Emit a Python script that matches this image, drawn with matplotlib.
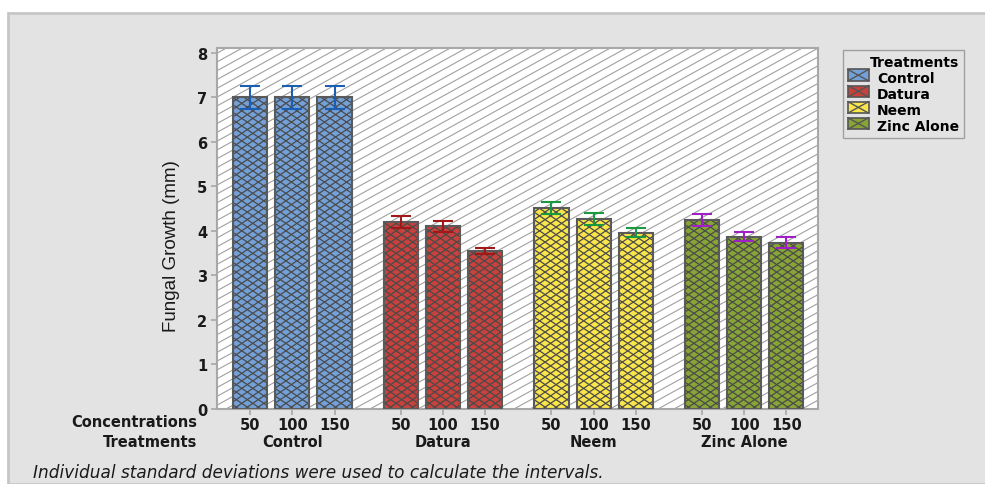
import numpy as np
import matplotlib
matplotlib.use('Agg')
import matplotlib.pyplot as plt
from matplotlib.patches import Rectangle, Patch
from matplotlib.lines import Line2D
from matplotlib.collections import LineCollection
from matplotlib.legend_handler import HandlerBase
from matplotlib import transforms

# data
treatments = ['Control', 'Datura', 'Neem', 'Zinc Alone']
concentrations = ['50', '100', '150']
growth = {
    'Control': [7.0, 7.0, 7.0],
    'Datura': [4.2, 4.1, 3.55],
    'Neem': [4.52, 4.27, 3.96],
    'Zinc Alone': [4.25, 3.87, 3.74],
}
errors = {
    'Control': [0.25, 0.25, 0.25],
    'Datura': [0.13, 0.13, 0.07],
    'Neem': [0.14, 0.13, 0.10],
    'Zinc Alone': [0.13, 0.10, 0.12],
}

bar_colors = ['#73a0d7', '#c8413c', '#fae64b', '#87a537']
err_colors = ['#1a5fb4', '#a01818', '#1a9a40', '#a020c8']

FW, FH = 985, 485
fig = plt.figure(figsize=(FW / 100, FH / 100), dpi=100)
fig.patch.set_facecolor('white')
# gray panel behind the chart
fig.patches.append(Rectangle((8 / FW, 0), 1, 1 - 14 / FH, transform=fig.transFigure,
                             facecolor='#e3e3e3', edgecolor='#c6c6c6', lw=2, zorder=-5))

ax_l, ax_r, ax_t, ax_b = 217, 818, 49, 410
ax = fig.add_axes([ax_l / FW, 1 - ax_b / FH, (ax_r - ax_l) / FW, (ax_b - ax_t) / FH])
ax.set_facecolor('white')
W, H = ax_r - ax_l, ax_b - ax_t


def diag_segments(slope, dy):
    # lines y = slope*x + c in pixel units, returned in axes fractions
    if slope > 0:
        cs = np.arange(-slope * W - dy, H + dy, dy)
    else:
        cs = np.arange(-dy, H - slope * W + dy, dy)
    return [[(0, c / H), (1, (slope * W + c) / H)] for c in cs]


# background hatching of the plot area
bg = LineCollection(diag_segments(0.55, 8.8), transform=ax.transAxes,
                    colors='#a0a0a0', linewidths=0.8, zorder=0.5)
ax.add_collection(bg)

step = 3.576
width = 0.81
font = 'DejaVu Sans'
tcol = '#1a1a1a'
fs = 10.5

for g, (name, col, ecol) in enumerate(zip(treatments, bar_colors, err_colors)):
    xs = g * step + np.arange(len(concentrations))
    bars = ax.bar(xs, growth[name], width, color=col, edgecolor='none', zorder=2)
    for b in bars:
        for s in (0.68, -0.68):
            lc = LineCollection(diag_segments(s, 7.5), transform=ax.transAxes,
                                colors='#4a4a4a', linewidths=0.9, zorder=2.5)
            ax.add_collection(lc)
            lc.set_clip_path(b)
    ax.bar(xs, growth[name], width, facecolor='none', edgecolor='#5a5a5a', lw=1.5, zorder=3)
    ax.errorbar(xs, growth[name], yerr=errors[name], fmt='none', ecolor=ecol,
                elinewidth=1.5, capsize=7, capthick=1.5, zorder=4)

ax.set_xlim(-0.79, 13.48)
ax.set_ylim(0, 8.11)
ax.set_yticks(range(0, 9))
tick_pos = [g * step + i for g in range(len(treatments)) for i in range(len(concentrations))]
ax.set_xticks(tick_pos)
ax.set_xticklabels(concentrations * len(treatments))
for sp in ax.spines.values():
    sp.set_color('#a8a8a8')
    sp.set_linewidth(1.5)
ax.tick_params(axis='both', colors='#a8a8a8', length=4, width=1.2, labelcolor=tcol,
               labelsize=fs)
ax.tick_params(axis='x', pad=1.5)
ax.tick_params(axis='y', pad=3)
for lab in ax.get_xticklabels() + ax.get_yticklabels():
    lab.set_fontfamily(font)
    lab.set_fontweight('bold')

# group names under the concentration labels
trans = transforms.blended_transform_factory(ax.transData, fig.transFigure)
for g, name in enumerate(treatments):
    ax.text(g * step + 1, 1 - 443 / FH, name, transform=trans, ha='center', va='center',
            fontsize=fs, fontfamily=font, fontweight='bold', color=tcol)

fig.text(197 / FW, 1 - 423 / FH, 'Concentrations', ha='right', va='center', fontsize=fs,
         fontfamily=font, fontweight='bold', color=tcol)
fig.text(197 / FW, 1 - 443 / FH, 'Treatments', ha='right', va='center', fontsize=fs,
         fontfamily=font, fontweight='bold', color=tcol)
fig.text(33 / FW, 1 - 473 / FH, 'Individual standard deviations were used to calculate the intervals.',
         ha='left', va='center', fontsize=12.2, fontfamily=font, style='italic', color=tcol)

ax.set_ylabel('Fungal Growth (mm)', fontsize=13.5, family=['Liberation Sans', 'DejaVu Sans'],
              color=tcol)
ax.yaxis.set_label_coords(-0.062, 0.455)


class CrossBoxHandler(HandlerBase):
    def create_artists(self, legend, orig, xd, yd, w, h, fontsize, trans):
        r = Rectangle((xd, yd), w, h, facecolor=orig.get_facecolor(), edgecolor='#555555',
                      lw=1.2, transform=trans)
        l1 = Line2D([xd, xd + w], [yd, yd + h], color='#555555', lw=1.0, transform=trans)
        l2 = Line2D([xd, xd + w], [yd + h, yd], color='#555555', lw=1.0, transform=trans)
        return [r, l1, l2]


handles = [Patch(facecolor=c) for c in bar_colors]
leg = ax.legend(handles, treatments, title='Treatments', loc='upper left',
                bbox_to_anchor=(843 / FW, 1 - 51 / FH), bbox_transform=fig.transFigure,
                borderaxespad=0, fancybox=False, framealpha=1, handlelength=1.5,
                handleheight=0.9, handletextpad=0.6, labelspacing=0.15, borderpad=0.35,
                handler_map={Patch: CrossBoxHandler()},
                prop={'family': font, 'weight': 'bold', 'size': 10},
                title_fontproperties={'family': font, 'weight': 'bold', 'size': 10})
leg.get_frame().set_facecolor('#e3e3e3')
leg.get_frame().set_edgecolor('#a0a0a0')
leg._legend_box.align = 'right'

fig.savefig('out.png', dpi=100)
